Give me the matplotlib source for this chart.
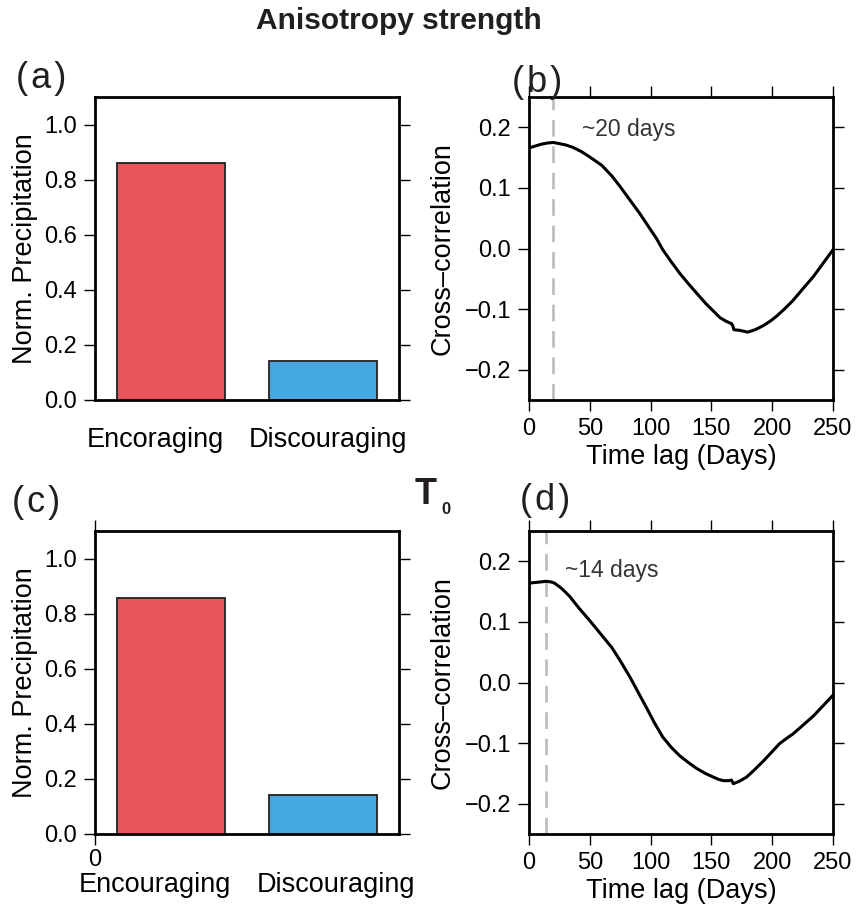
import matplotlib
matplotlib.use("Agg")
import matplotlib.pyplot as plt
import matplotlib.transforms as mtransforms

plt.rcParams['font.family'] = ['Liberation Sans', 'DejaVu Sans']

# ---- data ----
categories_a = ["Encoraging", "Discouraging"]
categories_c = ["Encouraging", "Discouraging"]
precip_a = [0.86, 0.14]
precip_c = [0.857, 0.141]
bar_colors = ["#E8555A", "#45A8E0"]

lag_b = [0, 5, 10, 15, 20, 25, 30, 36, 43, 50, 60, 68, 75, 83, 91, 99, 105, 110, 117,
         124, 131, 138, 145, 152, 157, 162, 166.5, 167.5, 168.5, 173, 180, 186, 193, 199,
         204, 210, 217, 225, 234, 242, 250]
corr_b = [0.166, 0.169, 0.172, 0.174, 0.175, 0.173, 0.171, 0.167, 0.160, 0.151, 0.137,
          0.120, 0.102, 0.080, 0.058, 0.034, 0.016, -0.002, -0.022, -0.041, -0.058, -0.074,
          -0.090, -0.104, -0.114, -0.120, -0.124, -0.127, -0.134, -0.135, -0.138, -0.134,
          -0.127, -0.119, -0.111, -0.100, -0.086, -0.067, -0.046, -0.024, -0.002]

lag_d = [0, 5, 10, 14, 18, 21, 27, 33.5, 41, 50, 59, 68, 75, 83, 90, 97, 103, 110, 117,
         124, 131, 138, 145, 151.5, 156, 160, 164, 166.5, 168, 173, 179, 186, 193, 200,
         206, 212, 217, 225, 234, 242, 250]
corr_d = [0.164, 0.165, 0.166, 0.167, 0.166, 0.164, 0.155, 0.142, 0.123, 0.102, 0.080,
          0.058, 0.036, 0.009, -0.017, -0.043, -0.066, -0.090, -0.107, -0.121, -0.132,
          -0.142, -0.150, -0.156, -0.160, -0.162, -0.162, -0.161, -0.167, -0.163, -0.156,
          -0.143, -0.129, -0.114, -0.101, -0.092, -0.085, -0.071, -0.055, -0.038, -0.021]

peak_b = 20
peak_d = 14
label_b = "~20 days"
label_d = "~14 days"

prec_yticks = [0.0, 0.2, 0.4, 0.6, 0.8, 1.0]
corr_yticks = [-0.2, -0.1, 0.0, 0.1, 0.2]
lag_xticks = [0, 50, 100, 150, 200, 250]

# ---- figure ----
W, H = 860, 908
fig = plt.figure(figsize=(W / 100, H / 100), dpi=100)

def rect(x0, y0, x1, y1):
    return [x0 / W, (H - y1) / H, (x1 - x0) / W, (y1 - y0) / H]

ax_a = fig.add_axes(rect(95, 97, 399, 400))
ax_b = fig.add_axes(rect(529, 97, 833, 400))
ax_c = fig.add_axes(rect(95, 531, 399, 834))
ax_d = fig.add_axes(rect(529, 531, 833, 834))

TICK_FS = 17
LAB_FS = 19.5
LW = 2.0
TXT = '#231F20'

def style(ax):
    for s in ax.spines.values():
        s.set_linewidth(LW)
    ax.tick_params(which='both', direction='out', length=8, width=1.0,
                   labelsize=TICK_FS, pad=5)

def bar_panel(ax, cats, vals, zero_tick):
    style(ax)
    pos = [0.5, 1.5]
    ax.bar(pos, vals, width=0.71, color=bar_colors, edgecolor='#222222', linewidth=1.3)
    ax.set_xlim(0, 2)
    ax.set_ylim(0, 1.1)
    ax.set_yticks(prec_yticks)
    ax.set_yticklabels([f"{v:.1f}" for v in prec_yticks])
    ax.tick_params(axis='y', left=True, right=True, labelleft=True)
    ax.set_ylabel("Norm. Precipitation", fontsize=LAB_FS)
    ax.yaxis.set_label_coords(-0.23, 0.5)
    ax.yaxis.label.set_va('center')
    if zero_tick:
        ax.set_xticks([0])
        ax.set_xticklabels(["0"])
        ax.tick_params(axis='x', bottom=True, top=True, labelsize=TICK_FS, pad=3)
        label_off = -51
        lx = [0.395, 1.585]
    else:
        ax.set_xticks([])
        label_off = -40
        lx = [0.40, 1.53]
    trans = mtransforms.offset_copy(ax.get_xaxis_transform(), fig=fig, x=0, y=label_off, units='dots')
    for x, c in zip(lx, cats):
        ax.text(x, 0, c, transform=trans, ha='center', va='center', fontsize=LAB_FS)

def corr_panel(ax, lag, corr, peak, lab, lab_xy):
    style(ax)
    ax.axvline(peak, color='#BFBFBF', lw=2.0, dashes=(6, 3.5), zorder=1)
    ax.plot(lag, corr, color='black', lw=2.2, zorder=2)
    ax.set_xlim(0, 250)
    ax.set_ylim(-0.25, 0.25)
    ax.set_xticks(lag_xticks)
    ax.set_yticks(corr_yticks)
    ax.set_yticklabels([f"{v:.1f}".replace("-", "\u2212") for v in corr_yticks])
    ax.tick_params(axis='x', bottom=True, top=True)
    ax.tick_params(axis='y', left=True, right=True)
    ax.set_xlabel("Time lag (Days)", fontsize=LAB_FS)
    ax.xaxis.set_label_coords(0.5, -0.188)
    ax.xaxis.label.set_va('center')
    ax.set_ylabel("Cross\u2013correlation", fontsize=LAB_FS)
    ax.yaxis.set_label_coords(-0.283, 0.5)
    ax.yaxis.label.set_va('center')
    ax.text(lab_xy[0], lab_xy[1], lab, fontsize=16.5, color='#333333', ha='left', va='center')

bar_panel(ax_a, categories_a, precip_a, False)
bar_panel(ax_c, categories_c, precip_c, True)
corr_panel(ax_b, lag_b, corr_b, peak_b, label_b, (43.5, 0.196))
corr_panel(ax_d, lag_d, corr_d, peak_d, label_d, (29.5, 0.185))

# panel labels
PL_FS = 26
def plabel(x, y, s):
    fig.text(x / W, 1 - y / H, s, fontsize=PL_FS, va='center', ha='left', color=TXT)

plabel(16, 79, "(\u200aa\u200a)")
plabel(512, 82, "(\u200ab\u200a)")
plabel(12, 502, "(\u200ac\u200a)")
plabel(520, 500, "(\u200ad\u200a)")

fig.text(399 / W, 1 - 21 / H, "Anisotropy strength", fontsize=21.5, fontweight='bold',
         ha='center', va='center', color=TXT)
fig.text(415 / W, 1 - 494 / H, "T", fontsize=26, fontweight='bold', ha='left', va='center',
         color=TXT)
fig.text(441 / W, 1 - 510 / H, "0", fontsize=12, fontweight='bold', ha='left', va='center',
         color=TXT)

fig.savefig("out.png", dpi=100)
